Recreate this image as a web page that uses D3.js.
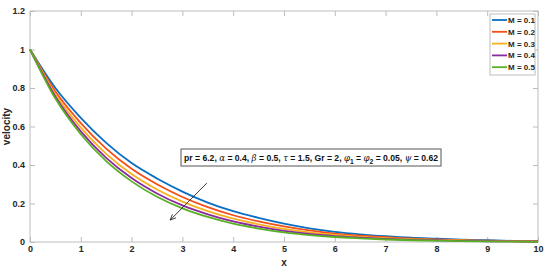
<!DOCTYPE html>
<html><head><meta charset="utf-8">
<script src="https://cdn.jsdelivr.net/npm/d3@7"></script>
<style>body{margin:0;background:#fff}svg{display:block}</style>
</head><body>
<script>
const xs = [0,0.5,1,1.5,2,2.5,3,3.5,4,4.5,5,5.5,6,6.5,7,7.5,8,8.5,9,9.5,10];
const m01 = [1,0.800,0.645,0.515,0.410,0.330,0.262,0.205,0.160,0.125,0.095,0.071,0.053,0.040,0.030,0.022,0.017,0.012,0.009,0.006,0.004];
const m02 = [1,0.782,0.618,0.485,0.380,0.300,0.234,0.181,0.139,0.107,0.081,0.060,0.044,0.033,0.025,0.018,0.014,0.010,0.007,0.005,0.003];
const m03 = [1,0.767,0.594,0.458,0.353,0.273,0.210,0.160,0.121,0.092,0.068,0.050,0.037,0.027,0.020,0.014,0.011,0.008,0.005,0.004,0.002];
const m04 = [1,0.755,0.575,0.437,0.332,0.252,0.190,0.144,0.107,0.080,0.058,0.042,0.031,0.023,0.016,0.011,0.009,0.006,0.004,0.003,0.0015];
const m05 = [1,0.745,0.560,0.420,0.315,0.235,0.175,0.130,0.095,0.070,0.050,0.036,0.026,0.019,0.013,0.009,0.007,0.005,0.003,0.002,0.001];
const seriesNames = ["M = 0.1","M = 0.2","M = 0.3","M = 0.4","M = 0.5"];
const seriesVals = [m01,m02,m03,m04,m05];
const colors = ["#0a6fc2","#f24f1a","#f7b11c","#8a2a9f","#58b024"];
const xTicks = [0,1,2,3,4,5,6,7,8,9,10];
const yTicks = [0,0.2,0.4,0.6,0.8,1,1.2];

const W=550,H=272;
const svg=d3.select("body").append("svg").attr("width",W).attr("height",H);
const x=d3.scaleLinear().domain([0,10]).range([30,538]);
const y=d3.scaleLinear().domain([0,1.2]).range([242,11]);
const axisCol="#bdbdbd", font="'Liberation Sans', Arial, sans-serif";

svg.append("rect").attr("x",30).attr("y",11).attr("width",508).attr("height",231)
  .attr("fill","none").attr("stroke",axisCol).attr("stroke-width",1);

function styleAxis(g){
  g.select(".domain").remove();
  g.selectAll(".tick line").attr("stroke",axisCol);
  g.selectAll(".tick text").attr("fill","#262626").attr("font-family",font)
   .attr("font-size","9px").attr("font-weight","bold");
}
svg.append("g").attr("transform","translate(0,242)")
  .call(d3.axisBottom(x).tickValues(xTicks).tickFormat(d3.format("d")).tickSizeInner(-5).tickPadding(4))
  .call(styleAxis);
svg.append("g").attr("transform","translate(0,11)")
  .call(d3.axisTop(x).tickValues(xTicks).tickSizeInner(-5).tickFormat(""))
  .call(styleAxis);
svg.append("g").attr("transform","translate(30,0)")
  .call(d3.axisLeft(y).tickValues(yTicks).tickFormat(d=>d3.format("")(+d.toFixed(1))).tickSizeInner(-5).tickPadding(5))
  .call(styleAxis);
svg.append("g").attr("transform","translate(538,0)")
  .call(d3.axisRight(y).tickValues(yTicks).tickSizeInner(-5).tickFormat(""))
  .call(styleAxis);

svg.append("text").attr("x",x(5)).attr("y",266).attr("text-anchor","middle")
  .attr("font-family",font).attr("font-size","10px").attr("font-weight","bold").attr("fill","#262626").text("x");
svg.append("text").attr("transform",`translate(10,${y(0.6)}) rotate(-90)`).attr("text-anchor","middle")
  .attr("font-family",font).attr("font-size","10px").attr("font-weight","bold").attr("fill","#262626").text("velocity");

const line=d3.line().x((d,i)=>x(xs[i])).y(d=>y(d)).curve(d3.curveMonotoneX);
seriesVals.forEach((v,i)=>{
  svg.append("path").attr("d",line(v)).attr("fill","none").attr("stroke",colors[i]).attr("stroke-width",1.8);
});

const lg=svg.append("g");
lg.append("rect").attr("x",490).attr("y",14).attr("width",45).attr("height",61)
  .attr("fill","#fff").attr("stroke","#bdbdbd");
seriesNames.forEach((n,i)=>{
  const yy=20+i*11.8;
  lg.append("line").attr("x1",492).attr("x2",507).attr("y1",yy).attr("y2",yy).attr("stroke",colors[i]).attr("stroke-width",1.8);
  lg.append("text").attr("x",508).attr("y",yy+3).attr("font-family",font).attr("font-size","8px")
    .attr("font-weight","bold").attr("fill","#262626").text(n);
});

const ab=svg.append("g");
ab.append("rect").attr("x",181).attr("y",149).attr("width",260).attr("height",17)
  .attr("fill","#fff").attr("stroke","#555").attr("stroke-width",1);
const t=ab.append("text").attr("x",184).attr("y",160.5).attr("font-family",font)
  .attr("font-weight","bold").attr("fill","#111");
const parts=[["pr = 6.2, "],["α","g"],[" = 0.4, "],["β","g"],[" = 0.5, "],["τ","g"],[" = 1.5, Gr = 2, "],
  ["φ","g"],["1","s"],[" = "],["φ","g"],["2","s"],[" = 0.05, "],["ψ","g"],[" = 0.62"]];
function setSizes(fs){
  t.attr("font-size",fs+"px");
  t.selectAll("tspan").each(function(d,i){
    const p=parts[i], ts=d3.select(this);
    ts.attr("font-size",(p[1]==="s"?fs*0.78:fs)+"px");
  });
}
parts.forEach((p,i)=>{
  const ts=t.append("tspan").text(p[0]);
  if(p[1]==="g") ts.attr("font-style","italic").attr("font-weight","normal").attr("font-family","'DejaVu Serif', serif");
  if(p[1]==="s") ts.attr("dy",3);
  if(i>0 && parts[i-1][1]==="s") ts.attr("dy",-3);
});
setSizes(9);
const bw=t.node().getComputedTextLength();
if(bw>254) setSizes(9*254/bw);

const defs=svg.append("defs");
defs.append("marker").attr("id","ah").attr("viewBox","0 0 10 10").attr("refX",9).attr("refY",5)
  .attr("markerWidth",7).attr("markerHeight",7).attr("orient","auto")
  .append("path").attr("d","M0,1 L9,5 L0,9").attr("fill","none").attr("stroke","#222").attr("stroke-width",1.3);
svg.append("line").attr("x1",x(3.48)).attr("y1",y(0.306)).attr("x2",x(2.76)).attr("y2",y(0.114))
  .attr("stroke","#222").attr("stroke-width",0.9).attr("marker-end","url(#ah)");
</script>
</body></html>
